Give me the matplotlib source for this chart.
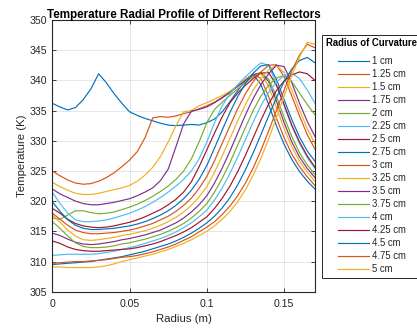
import matplotlib
matplotlib.use("Agg")
import matplotlib.pyplot as plt
from matplotlib.lines import Line2D
from matplotlib.transforms import IdentityTransform

plt.rcParams['font.family'] = ['Liberation Sans', 'DejaVu Sans']

# ---------------- data ----------------
radius_m = [0.000, 0.005, 0.010, 0.015, 0.020, 0.025, 0.030, 0.035, 0.040, 0.045,
            0.050, 0.055, 0.060, 0.065, 0.070, 0.075, 0.080, 0.085, 0.090, 0.095,
            0.100, 0.105, 0.110, 0.115, 0.120, 0.125, 0.130, 0.135, 0.140, 0.145,
            0.150, 0.155, 0.160, 0.165, 0.170]

labels = ['1 cm', '1.25 cm', '1.5 cm', '1.75 cm', '2 cm', '2.25 cm', '2.5 cm',
          '2.75 cm', '3 cm', '3.25 cm', '3.5 cm', '3.75 cm', '4 cm', '4.25 cm',
          '4.5 cm', '4.75 cm', '5 cm']

t_100 = [336.2, 335.6, 335.1, 335.5, 336.8, 338.6, 341.1, 339.6, 337.8, 336.2,
         334.8, 334.2, 333.7, 333.3, 332.9, 332.6, 332.5, 332.6, 332.7, 332.6,
         333.0, 333.6, 334.8, 336.5, 338.3, 340.0, 341.0, 339.3, 336.0, 332.5,
         329.4, 326.9, 324.9, 323.3, 322.0]
t_125 = [325.0, 324.2, 323.5, 323.0, 322.8, 322.9, 323.3, 323.9, 324.7, 325.7,
         326.8, 328.2, 330.5, 333.8, 334.0, 333.9, 334.1, 334.5, 334.8, 335.3,
         335.8, 336.4, 337.2, 338.1, 339.1, 340.2, 341.1, 340.3, 337.3, 333.8,
         330.5, 327.8, 325.7, 324.0, 322.6]
t_150 = [323.1, 322.4, 321.8, 321.3, 321.1, 321.1, 321.3, 321.6, 321.9, 322.2,
         322.6, 323.3, 324.3, 325.6, 327.4, 329.8, 332.5, 334.8, 335.0, 335.8,
         336.3, 336.9, 337.5, 338.2, 339.2, 340.2, 341.0, 341.2, 339.0, 335.6,
         332.0, 329.0, 326.6, 324.8, 323.3]
t_175 = [322.0, 321.2, 320.6, 320.0, 319.6, 319.4, 319.4, 319.6, 319.8, 320.1,
         320.4, 320.9, 321.5, 322.2, 323.4, 325.3, 329.0, 332.8, 334.9, 335.2,
         335.6, 336.3, 337.1, 338.0, 339.0, 340.0, 340.9, 341.3, 339.8, 336.6,
         333.0, 329.8, 327.3, 325.4, 323.9]
t_200 = [317.2, 317.0, 317.7, 318.4, 318.4, 318.1, 317.9, 318.0, 318.2, 318.6,
         319.0, 319.5, 320.1, 320.8, 321.6, 322.5, 323.6, 325.0, 327.0, 329.8,
         333.0, 335.2, 336.4, 337.5, 338.6, 339.7, 340.6, 341.2, 340.2, 337.4,
         333.9, 330.7, 328.0, 326.0, 324.4]
t_225 = [321.5, 319.6, 318.0, 316.9, 316.6, 316.6, 316.7, 316.9, 317.2, 317.6,
         318.0, 318.5, 319.1, 319.8, 320.6, 321.5, 322.5, 323.6, 325.0, 327.0,
         329.8, 333.0, 335.8, 337.8, 339.3, 340.6, 341.8, 342.9, 342.5, 339.4,
         335.8, 332.4, 329.5, 327.2, 325.4]
t_250 = [318.8, 318.0, 317.0, 316.3, 315.9, 315.7, 315.6, 315.7, 315.9, 316.2,
         316.5, 316.9, 317.4, 318.0, 318.6, 319.4, 320.3, 321.5, 323.2, 325.7,
         328.5, 331.3, 334.0, 336.3, 337.9, 339.2, 340.3, 341.2, 341.3, 339.2,
         336.0, 332.6, 329.8, 327.5, 325.6]
t_275 = [319.9, 318.3, 316.9, 316.0, 315.5, 315.3, 315.3, 315.4, 315.5, 315.7,
         315.9, 316.2, 316.6, 317.1, 317.7, 318.4, 319.3, 320.4, 321.8, 323.6,
         325.9, 328.8, 331.8, 334.7, 337.3, 339.5, 341.2, 342.4, 342.6, 340.2,
         336.8, 333.5, 330.6, 328.3, 326.6]
t_300 = [318.0, 317.0, 316.0, 315.2, 314.8, 314.6, 314.6, 314.7, 314.8, 315.0,
         315.2, 315.5, 315.9, 316.3, 316.9, 317.5, 318.3, 319.3, 320.5, 322.1,
         324.1, 326.7, 329.6, 332.5, 335.3, 337.8, 339.8, 341.4, 342.5, 342.6,
         340.6, 337.4, 334.1, 331.0, 328.6]
t_325 = [317.7, 316.5, 315.2, 314.2, 313.6, 313.5, 313.6, 313.8, 314.0, 314.3,
         314.5, 314.8, 315.1, 315.5, 316.0, 316.6, 317.3, 318.2, 319.3, 320.7,
         322.4, 324.8, 327.5, 330.4, 333.3, 336.0, 338.4, 340.3, 341.7, 342.5,
         341.3, 338.4, 335.1, 332.0, 329.5]
t_350 = [314.7, 314.3, 313.7, 313.2, 312.9, 312.8, 312.9, 313.1, 313.3, 313.6,
         313.8, 314.1, 314.4, 314.8, 315.2, 315.8, 316.4, 317.2, 318.2, 319.4,
         320.9, 323.0, 325.5, 328.3, 331.3, 334.3, 337.0, 339.3, 341.1, 342.5,
         342.3, 339.6, 336.2, 333.2, 330.7]
t_375 = [316.6, 315.5, 314.2, 313.1, 312.5, 312.3, 312.3, 312.4, 312.6, 312.9,
         313.1, 313.4, 313.7, 314.1, 314.5, 315.0, 315.6, 316.3, 317.2, 318.3,
         319.6, 321.5, 323.8, 326.4, 329.3, 332.2, 335.0, 337.4, 339.2, 340.4,
         340.8, 339.8, 337.9, 336.0, 334.3]
t_400 = [311.0, 311.1, 311.2, 311.2, 311.2, 311.2, 311.3, 311.5, 311.7, 312.0,
         312.3, 312.6, 313.0, 313.4, 313.8, 314.3, 314.9, 315.6, 316.4, 317.4,
         318.5, 320.2, 322.2, 324.6, 327.3, 330.2, 333.1, 335.8, 338.0, 339.7,
         340.8, 341.2, 340.3, 338.4, 336.2]
t_425 = [313.4, 313.0, 312.4, 312.0, 311.8, 311.7, 311.7, 311.8, 311.9, 312.0,
         312.1, 312.3, 312.6, 312.9, 313.3, 313.8, 314.3, 314.9, 315.6, 316.5,
         317.4, 318.8, 320.5, 322.5, 324.9, 327.6, 330.5, 333.4, 336.1, 338.3,
         339.9, 340.9, 341.4, 341.1, 340.0]
t_450 = [309.5, 309.6, 309.7, 309.8, 309.9, 310.0, 310.2, 310.4, 310.6, 310.8,
         311.1, 311.4, 311.7, 312.1, 312.5, 312.9, 313.4, 314.0, 314.7, 315.5,
         316.4, 317.5, 318.9, 320.6, 322.7, 325.2, 328.0, 331.0, 334.1, 337.1,
         339.8, 341.9, 343.3, 343.8, 342.9]
t_475 = [309.7, 309.8, 309.9, 310.0, 310.0, 310.1, 310.2, 310.3, 310.5, 310.7,
         310.8, 311.0, 311.3, 311.6, 312.0, 312.4, 312.9, 313.5, 314.1, 314.9,
         315.7, 316.6, 317.8, 319.2, 320.9, 323.0, 325.5, 328.4, 331.6, 335.0,
         338.4, 341.6, 344.2, 346.0, 345.4]
t_500 = [309.1, 309.1, 309.0, 309.0, 309.0, 309.0, 309.1, 309.3, 309.6, 310.0,
         310.3, 310.6, 310.9, 311.2, 311.6, 312.0, 312.5, 313.0, 313.6, 314.3,
         315.0, 315.9, 317.0, 318.3, 319.9, 321.9, 324.3, 327.1, 330.3, 333.8,
         337.4, 340.8, 343.9, 346.3, 346.0]

series = [t_100, t_125, t_150, t_175, t_200, t_225, t_250, t_275, t_300,
          t_325, t_350, t_375, t_400, t_425, t_450, t_475, t_500]

x_ticks = [0, 0.05, 0.1, 0.15]
x_ticklabels = ['0', '0.05', '0.1', '0.15']
y_ticks = [305, 310, 315, 320, 325, 330, 335, 340, 345, 350]

# ---------------- styling ----------------
matlab_colors = ['#0072BD', '#D95319', '#EDB120', '#7E2F8E',
                 '#77AC30', '#4DBEEE', '#A2142F']
axis_gray = '#262626'

fig = plt.figure(figsize=(4.17, 3.28), dpi=100)
ax = fig.add_axes([0.1254, 0.1107, 0.6300, 0.8283])

for i, (vals, lab) in enumerate(zip(series, labels)):
    ax.plot(radius_m, vals, color=matlab_colors[i % 7], lw=0.85, label=lab)

ax.set_xlim(0, 0.17)
ax.set_ylim(305, 350)
ax.set_xticks(x_ticks)
ax.set_xticklabels(x_ticklabels)
ax.set_yticks(y_ticks)
ax.grid(True, color=axis_gray, alpha=0.13, lw=0.6)
ax.set_axisbelow(True)
ax.tick_params(direction='in', length=3, width=0.6, colors=axis_gray,
               labelsize=7.6, top=True, right=True)
ax.tick_params(axis='x', pad=5)
ax.tick_params(axis='y', pad=3.5)
for sp in ax.spines.values():
    sp.set_color(axis_gray)
    sp.set_linewidth(0.8)

ax.set_title('Temperature Radial Profile of Different Reflectors',
             fontsize=8.4, fontweight='bold', pad=1.8, color='black')
ax.set_xlabel('Radius (m)', fontsize=8.2, color=axis_gray, labelpad=4)
ax.set_ylabel('Temperature (K)', fontsize=8.2, color=axis_gray, labelpad=2)

handles, labs = ax.get_legend_handles_labels()
leg = fig.legend(handles, labs, loc='upper left',
                 bbox_to_anchor=(322.3 / 417, 1 - 34.5 / 328),
                 bbox_transform=fig.transFigure, borderaxespad=0,
                 fontsize=6.9, title='Radius of Curvature',
                 title_fontproperties={'weight': 'bold', 'size': 6.85},
                 handlelength=3.3, handletextpad=0.25, labelspacing=0.31,
                 borderpad=0.4, fancybox=False, framealpha=1,
                 edgecolor=axis_gray)
leg.get_frame().set_linewidth(0.7)
leg._legend_box.sep = 5.8
for t in leg.get_texts():
    t.set_color(axis_gray)

fig.canvas.draw()
renderer = fig.canvas.get_renderer()
fb = leg.get_frame().get_window_extent(renderer)
tb = leg.get_title().get_window_extent(renderer)
ysep = tb.y0 - 2.5
fig.add_artist(Line2D([fb.x0, fb.x1], [ysep, ysep], transform=IdentityTransform(),
                      color=axis_gray, lw=0.7))

fig.savefig('out.png', dpi=100)
